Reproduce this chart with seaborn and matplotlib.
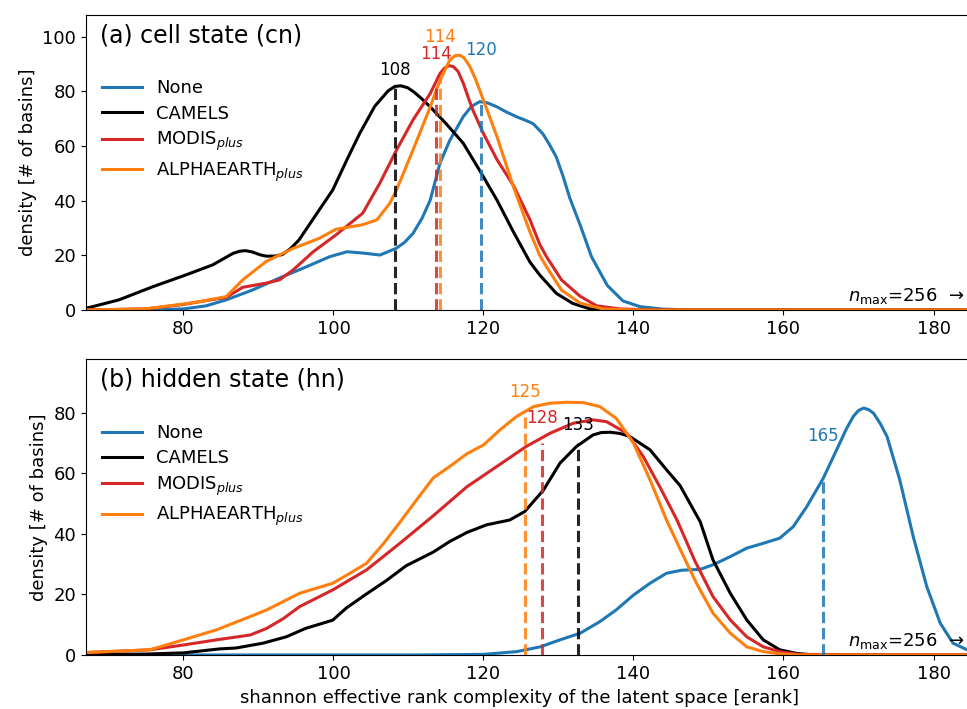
import numpy as np
import pandas as pd
import matplotlib.pyplot as plt
import seaborn as sns

# ---- (a) cell state, curves ----
cn_none_x = [67, 76, 80, 83, 85.7, 89.2, 92.8, 96.3, 99.5, 101.8, 104, 106.2, 108.4, 109.5, 110.6, 111.8, 112.9,
             114.2, 115.5, 117.3, 118.4, 119.5, 120.5, 121.8, 123, 124.4, 125.5, 126.6, 127.9, 128.8, 129.7, 130.6,
             131.5, 132.9, 134.4, 136.5, 138.6, 140.9, 144, 148, 186]
cn_none_y = [0, 0, 0.4, 1.5, 3.7, 7.3, 11.7, 15.7, 19.5, 21.3, 20.8, 20.1, 22.6, 24.8, 28, 33.5, 40.2,
             53.7, 62, 70.7, 74.5, 76.2, 75.8, 74.3, 72.5, 70.7, 69.5, 68.2, 64.5, 60.5, 56, 49,
             41, 31, 19.5, 9, 3.3, 1.2, 0.3, 0, 0]
cn_camels_x = [67, 71.4, 75.9, 80.3, 83.9, 86.6, 87.5, 88.3, 89.2, 90.2, 91, 92.2, 93.2, 94.3, 95.4, 98.1, 99.9,
               101.8, 103.5, 105.5, 107.3, 108.2, 109, 109.9, 110.8, 111.8, 112.9, 115, 117.3, 119.5, 121.8, 124,
               126.2, 127.5, 129.7, 131.9, 134.2, 137, 186]
cn_camels_y = [0.6, 3.7, 8.5, 12.8, 16.5, 20.7, 21.5, 21.7, 21.2, 20.2, 19.7, 19.7, 20.3, 22.5, 25.6, 36.6, 43.9,
               55, 64.6, 74.5, 80.2, 81.8, 82, 81.3, 79.6, 77.2, 74.3, 68.2, 61, 51, 40.2, 28.5,
               17.5, 12.8, 6.1, 2.4, 0.4, 0, 0]
cn_modis_x = [67, 75, 80, 82.5, 85.7, 87.9, 91, 92.8, 94.6, 97.3, 100.3, 103.9, 106.2, 108.4, 110.6, 112.9, 114.2,
              114.8, 115.4, 116, 116.6, 117.3, 118, 118.6, 120, 121.8, 124, 126.2, 127.5, 128.4, 130.4, 132.9,
              135.1, 138.2, 142, 186]
cn_modis_y = [0, 0.4, 2, 3.2, 4.6, 8.3, 9.8, 11, 14.6, 21.3, 27.4, 35.4, 46.5, 58.5, 69.5, 79.2, 86.5,
              88.5, 89.4, 89, 87.3, 83, 77.5, 73, 64.5, 55, 45.5, 33, 24, 19.5, 11, 5,
              1.5, 0.4, 0, 0]
cn_alpha_x = [67, 75, 80, 82.5, 85.7, 87.9, 91, 94.6, 98.1, 100.3, 103.9, 105.8, 107.5, 108.4, 110.6, 112.9, 114.2,
              115.5, 116.2, 116.8, 117.4, 118.2, 119, 119.5, 121.8, 124, 126.2, 127.5, 128.4, 130.4, 132.9, 135.9,
              140, 186]
cn_alpha_y = [0, 0.4, 2.2, 3.2, 4.9, 11, 17.7, 22.5, 26.2, 29.5, 31.2, 33, 39, 43.9, 58.5, 74.3, 84,
              91.4, 93, 93.2, 92.3, 89, 84, 80.4, 63.4, 45, 28.5, 20, 15.8, 7.3, 2.5, 0.4,
              0, 0]

# ---- (b) hidden state ----
hn_none_x = [67, 110, 120, 124.4, 127.6, 130.2, 132.9, 135.5, 137.7, 140, 142.2, 144.4, 146.4, 148.9, 150.6, 152.9,
             155.1, 157.3, 159.5, 161.3, 163.1, 165.3, 167.5, 168.4, 169.3, 170, 170.7, 171.4, 172, 172.9, 173.8,
             175.5, 177.3, 179.1, 180.9, 182.6, 184.5, 186]
hn_none_y = [0, 0, 0.2, 1.1, 2.7, 5, 7.2, 11, 14.9, 19.8, 23.7, 27, 28, 28.3, 29.8, 32.5,
             35.3, 36.9, 38.6, 42.4, 49, 58.4, 70, 74.8, 78.8, 80.8, 81.6, 81, 79.9, 76.5, 72.2,
             57.9, 39.1, 22.6, 10.5, 3.9, 1.7, 0.9]
hn_camels_x = [67, 75, 80, 84.8, 87, 90.6, 93.7, 96.3, 99.9, 101.7, 104.3, 107, 109.7, 113.3, 115.5, 117.8, 120.4,
               123.5, 125.5, 128, 130.2, 132.4, 134.6, 135.7, 136.9, 138.2, 139.5, 142.2, 144.4, 146.2, 148.9,
               150.6, 152.9, 155.1, 157.3, 159.5, 161.8, 164, 186]
hn_camels_y = [0.2, 0.3, 0.7, 2, 2.3, 3.9, 6, 8.8, 11.5, 15.5, 20, 24.5, 29.5, 34, 37.5, 40.5, 43,
               44.6, 47.4, 54.5, 63.4, 68.9, 72.7, 73.5, 73.6, 73.2, 72.2, 67.8, 61.2, 56, 44,
               31.4, 20.4, 11.6, 5, 1.7, 0.5, 0, 0]
hn_modis_x = [67, 75.5, 80, 84.4, 88.9, 91.1, 93.3, 95.5, 99.9, 104.4, 108.9, 113.3, 117.8, 122.2, 125.7, 128.9,
              132, 134.6, 136.4, 139.1, 141.3, 143.5, 145.8, 148.2, 150.6, 152.9, 155.1, 157.3, 159.5, 162, 186]
hn_modis_y = [0.8, 1.7, 3.3, 5, 6.6, 8.8, 12, 16, 21.5, 28.1, 37, 46, 55.6, 63, 68.9, 73.3,
              76.6, 77.7, 77.1, 73.3, 65.6, 55.6, 44.6, 31, 19.3, 11.6, 6, 2.7, 1.1, 0.2, 0]
hn_alpha_x = [67, 75.5, 80, 84.4, 88.9, 91.1, 95.5, 99.9, 102.2, 104.4, 106.7, 108.9, 111, 113.3, 115.5, 117.8,
              120, 122.2, 124.4, 126.7, 128.9, 131.1, 133.3, 135.5, 137.7, 140, 142.2, 144.4, 146.4, 148.4,
              150.6, 152.9, 155.1, 157.3, 159.5, 162, 186]
hn_alpha_y = [0.8, 1.7, 5, 8.3, 12.7, 14.9, 20.4, 23.7, 27, 30.3, 36.9, 44, 51, 58.5, 62.3, 66.5,
              69.4, 74.4, 78.8, 82.1, 83.2, 83.5, 83.4, 82.1, 78.2, 70, 57.9, 44.6, 34, 23.7,
              13.8, 7.2, 2.7, 1.1, 0.4, 0, 0]

names = ["None", "CAMELS", r"MODIS$_{plus}$", r"ALPHAEARTH$_{plus}$"]
colors = ["#1f77b4", "black", "#d62728", "#ff7f0e"]

# medians (dashed lines), height of the dashed line, label heights
cn_median = [119.7, 108.2, 113.7, 114.2]
cn_median_top = [76, 82, 83, 85]
cn_label_y = [95, 87.7, 93.6, 99.8]
cn_label = ["120", "108", "114", "114"]
hn_median = [165.3, 132.6, 127.8, 125.6]
hn_median_top = [58, 70, 70, 80]
hn_label_y = [72.4, 76, 78.4, 87]
hn_label = ["165", "133", "128", "125"]


def long_df(xs, ys):
    parts = []
    for nm, x, y in zip(names, xs, ys):
        parts.append(pd.DataFrame({"x": x, "y": y, "run": nm}))
    return pd.concat(parts, ignore_index=True)


df_cn = long_df([cn_none_x, cn_camels_x, cn_modis_x, cn_alpha_x], [cn_none_y, cn_camels_y, cn_modis_y, cn_alpha_y])
df_hn = long_df([hn_none_x, hn_camels_x, hn_modis_x, hn_alpha_x], [hn_none_y, hn_camels_y, hn_modis_y, hn_alpha_y])

fig = plt.figure(figsize=(9.67, 7.09), dpi=100)
ax1 = fig.add_axes([0.0889, 0.5628, 0.923, 0.416])
ax2 = fig.add_axes([0.0889, 0.0762, 0.923, 0.417])

panels = [
    (ax1, df_cn, cn_median, cn_median_top, cn_label, cn_label_y, "(a) cell state (cn)", 107.9, [0, 20, 40, 60, 80, 100]),
    (ax2, df_hn, hn_median, hn_median_top, hn_label, hn_label_y, "(b) hidden state (hn)", 97.7, [0, 20, 40, 60, 80]),
]

for ax, df, med, top, lab, laby, title, ymax, yt in panels:
    sns.lineplot(data=df, x="x", y="y", hue="run", hue_order=names, palette=colors,
                 sort=False, estimator=None, linewidth=2.2, ax=ax)
    for m, t, c in zip(med, top, colors):
        ax.vlines(m, 0, t, colors=c, linestyles="--", linewidth=2.2, alpha=0.85)
    for m, l, ly, c in zip(med, lab, laby, colors):
        ax.text(m, ly, l, color=c, fontsize=12, ha="center", va="center")
    ax.set_xlim(67, 186)
    ax.set_ylim(0, ymax)
    ax.set_xticks([80, 100, 120, 140, 160, 180])
    ax.set_yticks(yt)
    ax.tick_params(labelsize=13)
    ax.set_ylabel("density [# of basins]", fontsize=13)
    ax.set_xlabel("")
    ax.text(0.0157, 0.932, title, transform=ax.transAxes, fontsize=17, ha="left", va="center")
    ax.text(168.6, ymax * 0.047, r"$n_{\mathrm{max}}$=256  →", fontsize=13, ha="left", va="center")
    ax.legend(loc="upper left", bbox_to_anchor=(0.01, 0.806), frameon=False, fontsize=13,
              handlelength=2.2, handletextpad=0.8, borderaxespad=0, labelspacing=0.4)

ax2.set_xlabel("shannon effective rank complexity of the latent space [erank]", fontsize=13)
ax2.xaxis.set_label_coords(0.486, -0.115)

fig.savefig("out.png", dpi=100)
